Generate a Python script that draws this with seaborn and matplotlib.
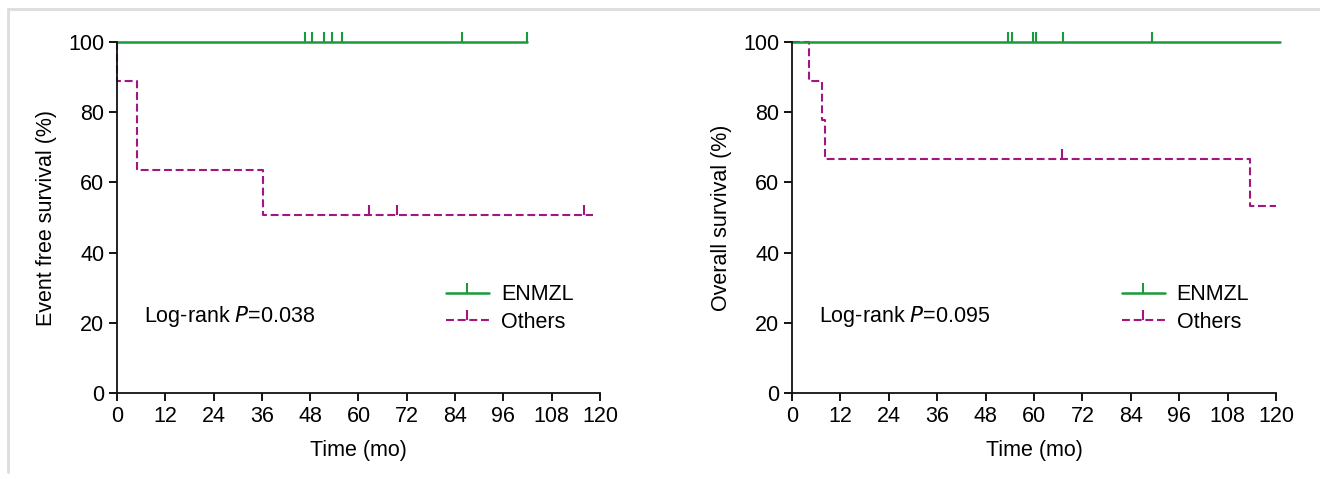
import matplotlib
matplotlib.use('Agg')
import matplotlib.pyplot as plt
from matplotlib.lines import Line2D
import seaborn as sns

# Event free survival (left panel)
efs_enmzl_time = [0, 102]
efs_enmzl_surv = [100, 100]
efs_enmzl_censor = [46.7, 48.4, 51.4, 53.4, 55.9, 85.7, 102]

efs_others_time = [0, 0, 4.9, 36.4, 118.2]
efs_others_surv = [100, 88.9, 63.5, 50.8, 50.8]
efs_others_censor = [62.5, 69.5, 116]
efs_others_censor_surv = [50.8, 50.8, 50.8]

# Overall survival (right panel)
os_enmzl_time = [0, 121]
os_enmzl_surv = [100, 100]
os_enmzl_censor = [53.6, 54.6, 59.8, 60.5, 67.1, 89.2]

os_others_time = [0, 4.3, 7.45, 8.3, 113.6, 120]
os_others_surv = [100, 88.9, 77.8, 66.7, 53.3, 53.3]
os_others_censor = [67.0]
os_others_censor_surv = [66.7]

x_ticks = list(range(0, 121, 12))
y_ticks = [0, 20, 40, 60, 80, 100]
group_labels = ['ENMZL', 'Others']
panel_ylabels = ['Event free survival (%)', 'Overall survival (%)']
panel_pvalues = ['0.038', '0.095']

green = '#1a9a3a'
magenta = '#a3157f'
dash = (0, (3.8, 1.8))

sns.set_style('ticks')
plt.rcParams['font.family'] = ['Liberation Sans', 'DejaVu Sans']
plt.rcParams['font.size'] = 15.5
for key in ['text.color', 'axes.labelcolor', 'xtick.color', 'ytick.color']:
    plt.rcParams[key] = 'black'

fig = plt.figure(figsize=(13.2, 4.79), dpi=100)
ax1 = fig.add_axes([0.0886, 0.1795, 0.3659, 0.7328])
ax2 = fig.add_axes([0.6, 0.1795, 0.3667, 0.7328])

panels = [
    (ax1, efs_enmzl_time, efs_enmzl_surv, efs_enmzl_censor,
     efs_others_time, efs_others_surv, efs_others_censor, efs_others_censor_surv),
    (ax2, os_enmzl_time, os_enmzl_surv, os_enmzl_censor,
     os_others_time, os_others_surv, os_others_censor, os_others_censor_surv),
]

for i, (ax, et, es, ec, ot, osv, oc, ocs) in enumerate(panels):
    sns.lineplot(x=ot, y=osv, estimator=None, sort=False, drawstyle='steps-post',
                 color=magenta, linestyle=dash, linewidth=1.5, clip_on=False, ax=ax)
    sns.lineplot(x=et, y=es, estimator=None, sort=False, drawstyle='steps-post',
                 color=green, linewidth=1.8, clip_on=False, ax=ax)
    # censored observations as upward tick marks
    ax.plot(ec, [100] * len(ec), ls='none', marker=2, ms=7, mew=1.5,
            color=green, clip_on=False)
    ax.plot(oc, ocs, ls='none', marker=2, ms=7, mew=1.5,
            color=magenta, clip_on=False)

    ax.set_xlim(0, 120)
    ax.set_ylim(0, 100)
    ax.set_xticks(x_ticks)
    ax.set_yticks(y_ticks)
    ax.tick_params(direction='out', length=6, width=1.3, pad=3, labelsize=15.5)
    for side in ['left', 'bottom']:
        ax.spines[side].set_linewidth(1.3)
        ax.spines[side].set_color('#111111')
    sns.despine(ax=ax)
    ax.set_xlabel('Time (mo)', fontsize=15.5, labelpad=10)
    ax.set_ylabel(panel_ylabels[i], fontsize=15.5, labelpad=8)

    ax.text(0.056, 0.217, 'Log-rank $\\mathit{P}$=' + panel_pvalues[i],
            transform=ax.transAxes, fontsize=15.5, va='center', ha='left')

    handles = [
        Line2D([], [], color=green, lw=1.8, marker=2, ms=7, mew=1.5),
        Line2D([], [], color=magenta, lw=1.5, ls=dash, marker=2, ms=7, mew=1.5),
    ]
    ax.legend(handles, group_labels, loc='upper left', bbox_to_anchor=(0.681, 0.31),
              frameon=False, fontsize=15.5, numpoints=1, handlelength=2.0,
              handletextpad=0.55, labelspacing=0.3, borderpad=0, borderaxespad=0)

# light grey frame at top and left of the figure
fig.add_artist(Line2D([0.006, 1.0], [0.981, 0.981], color='#dddddd', lw=2,
                      transform=fig.transFigure))
fig.add_artist(Line2D([0.006, 0.006], [0.015, 0.981], color='#dddddd', lw=2,
                      transform=fig.transFigure))

fig.savefig('out.png', dpi=100)
